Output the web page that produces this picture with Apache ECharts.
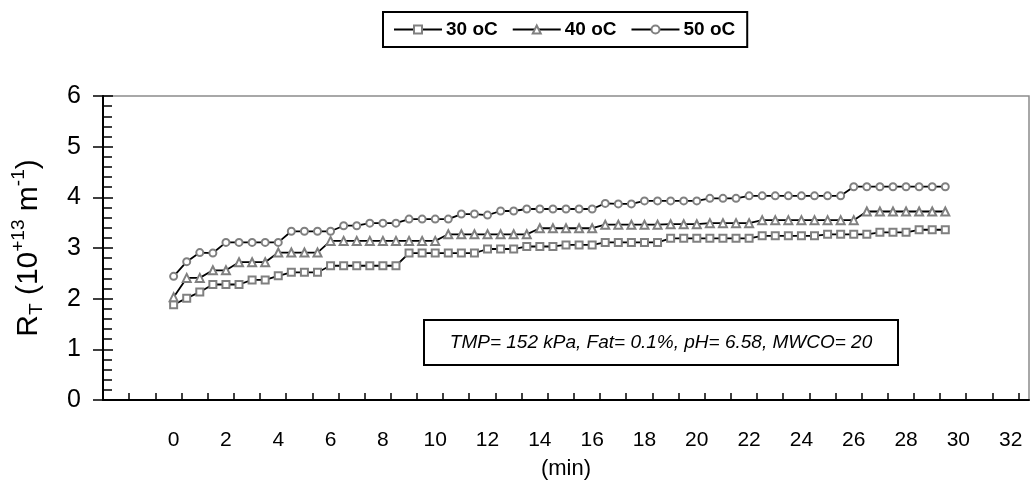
<!DOCTYPE html>
<html>
<head>
<meta charset="utf-8">
<script src="https://cdn.jsdelivr.net/npm/echarts@6/dist/echarts.min.js"></script>
<style>
  html, body { margin: 0; padding: 0; background: #fff; }
  #chart { width: 1032px; height: 495px; }
</style>
</head>
<body>
<div id="chart"></div>
<script>
// Filtration time (min)
const timeMin = [
  0, 0.5, 1, 1.5, 2, 2.5, 3, 3.5, 4, 4.5,
  5, 5.5, 6, 6.5, 7, 7.5, 8, 8.5, 9, 9.5,
  10, 10.5, 11, 11.5, 12, 12.5, 13, 13.5, 14, 14.5,
  15, 15.5, 16, 16.5, 17, 17.5, 18, 18.5, 19, 19.5,
  20, 20.5, 21, 21.5, 22, 22.5, 23, 23.5, 24, 24.5,
  25, 25.5, 26, 26.5, 27, 27.5, 28, 28.5, 29, 29.5
];

// Total resistance R_T (10^13 m^-1) at each temperature
const rt30 = [
  1.88, 2.01, 2.13, 2.28, 2.28, 2.28, 2.37, 2.37, 2.45, 2.52,
  2.52, 2.52, 2.65, 2.65, 2.65, 2.65, 2.65, 2.65, 2.90, 2.90,
  2.90, 2.90, 2.90, 2.90, 2.98, 2.98, 2.98, 3.03, 3.03, 3.03,
  3.06, 3.06, 3.06, 3.11, 3.11, 3.11, 3.11, 3.11, 3.19, 3.19,
  3.19, 3.19, 3.19, 3.19, 3.19, 3.24, 3.24, 3.24, 3.24, 3.24,
  3.27, 3.27, 3.27, 3.27, 3.31, 3.31, 3.31, 3.36, 3.36, 3.36
];
const rt40 = [
  2.03, 2.41, 2.41, 2.56, 2.56, 2.72, 2.72, 2.72, 2.91, 2.91,
  2.91, 2.91, 3.14, 3.14, 3.14, 3.14, 3.14, 3.14, 3.14, 3.14,
  3.14, 3.27, 3.27, 3.27, 3.27, 3.27, 3.27, 3.27, 3.39, 3.39,
  3.39, 3.39, 3.39, 3.46, 3.46, 3.46, 3.46, 3.46, 3.47, 3.47,
  3.47, 3.49, 3.49, 3.49, 3.49, 3.55, 3.55, 3.55, 3.55, 3.55,
  3.55, 3.55, 3.55, 3.72, 3.72, 3.72, 3.72, 3.72, 3.72, 3.72
];
const rt50 = [
  2.44, 2.73, 2.91, 2.90, 3.11, 3.11, 3.11, 3.11, 3.11, 3.33,
  3.33, 3.33, 3.33, 3.44, 3.44, 3.49, 3.49, 3.49, 3.57, 3.57,
  3.57, 3.57, 3.67, 3.67, 3.65, 3.73, 3.73, 3.77, 3.77, 3.77,
  3.77, 3.77, 3.77, 3.88, 3.87, 3.87, 3.93, 3.93, 3.93, 3.93,
  3.93, 3.98, 3.98, 3.98, 4.03, 4.03, 4.03, 4.03, 4.03, 4.03,
  4.03, 4.03, 4.21, 4.21, 4.21, 4.21, 4.21, 4.21, 4.21, 4.21
];

const seriesNames = ['30 oC', '40 oC', '50 oC'];
const seriesSymbols = ['rect', 'triangle', 'circle'];
const seriesValues = [rt30, rt40, rt50];

// Axis tick labels and tick-mark positions along time
const xTickLabels = [0, 2, 4, 6, 8, 10, 12, 14, 16, 18, 20, 22, 24, 26, 28, 30, 32];
const xTickMarks = [
  -1.7, -0.7, 0.3, 1.3, 2.3, 3.3, 4.3, 5.3, 6.3, 7.3, 8.3, 9.3, 10.3, 11.3, 12.3,
  13.3, 14.3, 15.3, 16.3, 17.3, 18.3, 19.3, 20.3, 21.3, 22.3, 23.3, 24.3, 25.3,
  26.3, 27.3, 28.3, 29.3, 30.3, 31.3, 32.3
];
const yTickLabels = [0, 1, 2, 3, 4, 5, 6];

const FONT = '"Liberation Sans", Arial, Helvetica, sans-serif';
const MARK_GREY = '#808080';

const chart = echarts.init(document.getElementById('chart'), null, { renderer: 'canvas' });

const series = seriesNames.map((name, i) => ({
  name: name,
  type: 'line',
  data: timeMin.map((t, k) => [t, seriesValues[i][k]]),
  symbol: seriesSymbols[i],
  symbolSize: seriesSymbols[i] === 'triangle' ? 8 : 7,
  showAllSymbol: true,
  lineStyle: { color: '#000', width: 1.8 },
  itemStyle: { color: '#fff', borderColor: MARK_GREY, borderWidth: 2 },
  emphasis: { disabled: true },
  z: 3 + i
}));

const yAxisBase = {
  type: 'value',
  min: 0,
  max: 6,
  interval: 1,
  position: 'left'
};

chart.setOption({
  animation: false,
  textStyle: { fontFamily: FONT },
  grid: {
    left: 103, right: 3, top: 96, bottom: 95,
    containLabel: false,
    outerBoundsMode: 'none',
    show: true,
    borderColor: '#8c8c8c',
    borderWidth: 1.5,
    backgroundColor: 'transparent'
  },
  legend: {
    data: seriesNames,
    top: 12,
    left: 383,
    orient: 'horizontal',
    itemWidth: 48,
    itemHeight: 10,
    itemGap: 14,
    padding: [8, 12, 8, 10],
    borderColor: '#000',
    borderWidth: 2,
    selectedMode: false,
    textStyle: { fontFamily: FONT, fontSize: 19, fontWeight: 'bold', color: '#000', padding: [0, 0, 0, -1] }
  },
  xAxis: {
    type: 'value',
    min: -2.7,
    max: 32.7,
    name: '(min)',
    nameLocation: 'middle',
    nameGap: 58,
    nameTextStyle: { fontFamily: FONT, fontSize: 22, color: '#000' },
    axisLine: { show: true, onZero: false, lineStyle: { color: '#000', width: 2 } },
    axisTick: {
      show: true, inside: true, length: 7,
      customValues: xTickMarks,
      lineStyle: { color: '#000', width: 1.5 }
    },
    axisLabel: {
      show: true,
      customValues: xTickLabels,
      margin: 30,
      fontFamily: FONT, fontSize: 21, color: '#000',
      showMinLabel: true, showMaxLabel: true
    },
    splitLine: { show: false }
  },
  yAxis: [
    Object.assign({}, yAxisBase, {
      name: '{m|R}{sub|T}{m| (10}{sup|+13}{m| m}{sup|-1}{m|)}',
      nameLocation: 'middle',
      nameRotate: 90,
      nameGap: 54,
      nameTextStyle: {
        color: '#000',
        rich: {
          m: { fontFamily: FONT, fontSize: 30, color: '#000', lineHeight: 40, verticalAlign: 'middle' },
          sub: { fontFamily: FONT, fontSize: 19, color: '#000', lineHeight: 19, verticalAlign: 'bottom', padding: [0, 0, 3, 0] },
          sup: { fontFamily: FONT, fontSize: 19, color: '#000', lineHeight: 19, verticalAlign: 'top' }
        }
      },
      axisLine: { show: true, onZero: false, lineStyle: { color: '#000', width: 2 } },
      axisTick: { show: true, inside: true, length: 10, lineStyle: { color: '#000', width: 1.5 } },
      minorTick: { show: true, splitNumber: 5, length: 9, lineStyle: { color: '#000', width: 1.5 } },
      axisLabel: {
        show: true,
        customValues: yTickLabels,
        margin: 22,
        fontFamily: FONT, fontSize: 25, color: '#000'
      },
      splitLine: { show: false }
    }),
    Object.assign({}, yAxisBase, {
      axisLine: { show: false, onZero: false },
      axisTick: { show: true, inside: false, length: 10, lineStyle: { color: '#000', width: 1.5 } },
      axisLabel: { show: false },
      splitLine: { show: false }
    })
  ],
  graphic: [
    {
      type: 'group',
      left: 423,
      top: 319,
      children: [
        {
          type: 'rect',
          shape: { x: 0, y: 0, width: 474, height: 45 },
          style: { fill: '#fff', stroke: '#000', lineWidth: 2 }
        },
        {
          type: 'text',
          x: 237,
          y: 23,
          style: {
            text: 'TMP= 152 kPa, Fat= 0.1%, pH= 6.58, MWCO= 20',
            fontFamily: FONT,
            fontSize: 19,
            fontStyle: 'italic',
            fill: '#000',
            align: 'center',
            verticalAlign: 'middle'
          }
        }
      ]
    }
  ],
  series: series
});
</script>
</body>
</html>
